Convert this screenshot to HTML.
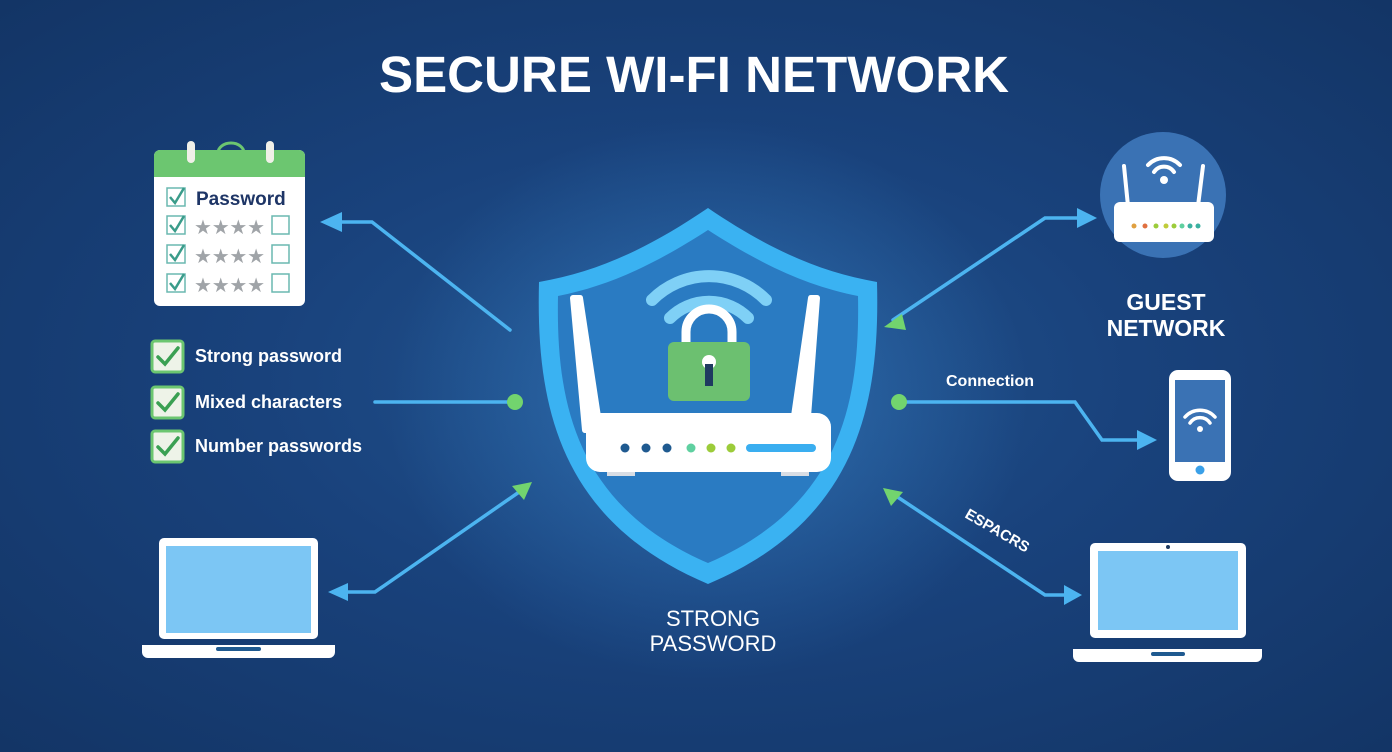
<!DOCTYPE html>
<html><head><meta charset="utf-8"><style>
html,body{margin:0;padding:0;width:1392px;height:752px;overflow:hidden;background:#163a70}
svg{display:block}
text{font-family:"Liberation Sans",sans-serif}
</style></head><body>
<svg width="1392" height="752" viewBox="0 0 1392 752" xmlns="http://www.w3.org/2000/svg">
<defs>
<radialGradient id="bg" cx="0.5" cy="0.5" r="0.7">
<stop offset="0" stop-color="#22548f"/><stop offset="0.45" stop-color="#19427c"/><stop offset="1" stop-color="#133566"/>
</radialGradient>
<radialGradient id="glow" cx="0.5" cy="0.5" r="0.5">
<stop offset="0" stop-color="#3d8fd8" stop-opacity="0.5"/><stop offset="1" stop-color="#3d8fd8" stop-opacity="0"/>
</radialGradient>
</defs>
<rect width="1392" height="752" fill="url(#bg)"/>
<ellipse cx="708" cy="400" rx="320" ry="280" fill="url(#glow)"/>

<text x="694" y="92" text-anchor="middle" font-size="51" font-weight="bold" fill="#fff" textLength="630" lengthAdjust="spacingAndGlyphs">SECURE WI-FI NETWORK</text>

<!-- connectors -->
<g stroke="#4cb4f0" stroke-width="3.5" fill="none" stroke-linecap="round">
<polyline points="510,330 372,222 340,222"/>
<line x1="375" y1="402" x2="512" y2="402"/>
<polyline points="522,490 375,592 345,592"/>
<polyline points="893,320 1045,218 1080,218"/>
<polyline points="902,402 1075,402 1102,440 1140,440"/>
<polyline points="890,492 1045,595 1068,595"/>
</g>
<g fill="#4cb4f0">
<polygon points="320,222 342,212 342,232"/>
<polygon points="328,592 348,583 348,601"/>
<polygon points="1097,218 1077,208 1077,228"/>
<polygon points="1157,440 1137,430 1137,450"/>
<polygon points="1082,595 1064,585 1064,605"/>
</g>
<g fill="#72d46e">
<circle cx="515" cy="402" r="8"/><circle cx="899" cy="402" r="8"/>
<polygon points="532,482 512,486 524,500"/>
<polygon points="884,327 902,314 906,330"/>
<polygon points="883,488 903,492 891,506"/>
</g>

<!-- shield -->
<path d="M708,208 C770,250 820,272 877,282 C880,400 860,520 708,584 C556,520 536,400 539,282 C596,272 646,250 708,208Z" fill="#3ab2f2"/>
<path d="M708,230 C764,266 808,286 858,296 C860,400 842,505 708,563 C574,505 556,400 558,296 C608,286 652,266 708,230Z" fill="#2a7bc2"/>
<path d="M652,300 A80,80 0 0 1 766,300" stroke="#7fd0f6" stroke-width="12" fill="none" stroke-linecap="round"/>
<path d="M670,318 A55,55 0 0 1 748,318" stroke="#7fd0f6" stroke-width="12" fill="none" stroke-linecap="round"/>
<path d="M686,345 V332 A23,23 0 0 1 732,332 V345" stroke="#fff" stroke-width="9" fill="none"/>
<rect x="668" y="342" width="82" height="59" rx="6" fill="#6cc070"/>
<circle cx="709" cy="362" r="7" fill="#fff"/>
<rect x="705" y="364" width="8" height="22" fill="#1f3a60"/>
<path d="M573,298 L585,430 L600,430 L580,298Z" fill="#fff" stroke="#fff" stroke-width="6" stroke-linejoin="round"/>
<path d="M811,298 L792,430 L807,430 L817,298Z" fill="#fff" stroke="#fff" stroke-width="6" stroke-linejoin="round"/>
<rect x="607" y="466" width="28" height="10" fill="#d8dde4"/>
<rect x="781" y="466" width="28" height="10" fill="#d8dde4"/>
<rect x="586" y="413" width="245" height="59" rx="14" fill="#fff"/>
<g><circle cx="625" cy="448" r="4.5" fill="#1f5a90"/><circle cx="646" cy="448" r="4.5" fill="#1f5a90"/><circle cx="667" cy="448" r="4.5" fill="#1f5a90"/><circle cx="691" cy="448" r="4.5" fill="#5fd0a0"/><circle cx="711" cy="448" r="4.5" fill="#9ccc3a"/><circle cx="731" cy="448" r="4.5" fill="#9ccc3a"/></g>
<rect x="746" y="444" width="70" height="8" rx="4" fill="#3aaef0"/>

<text x="713" y="626" text-anchor="middle" font-size="22" fill="#fff">STRONG</text>
<text x="713" y="651" text-anchor="middle" font-size="22" fill="#fff">PASSWORD</text>

<!-- calendar -->
<rect x="154" y="150" width="151" height="156" rx="6" fill="#fff"/>
<path d="M154,177 V156 A6,6 0 0 1 160,150 H299 A6,6 0 0 1 305,156 V177Z" fill="#6cc670"/>
<path d="M218,153 A13,10 0 0 1 244,153" stroke="#6cc670" stroke-width="3" fill="none"/>
<rect x="187" y="141" width="8" height="22" rx="4" fill="#f0f0e8"/>
<rect x="266" y="141" width="8" height="22" rx="4" fill="#f0f0e8"/>
<g stroke="#6ab8b0" stroke-width="1.5" fill="none">
<rect x="167" y="188" width="18" height="18"/><rect x="167" y="216" width="18" height="18"/><rect x="167" y="245" width="18" height="18"/><rect x="167" y="274" width="18" height="18"/>
<rect x="272" y="216" width="17" height="18"/><rect x="272" y="245" width="17" height="18"/><rect x="272" y="274" width="17" height="18"/>
</g>
<g stroke="#3a9c8a" stroke-width="2.5" fill="none">
<polyline points="170,197 175,203 184,188"/><polyline points="170,225 175,231 184,216"/><polyline points="170,254 175,260 184,245"/><polyline points="170,283 175,289 184,274"/>
</g>
<text x="196" y="205" font-size="19" font-weight="bold" fill="#1e3566">Password</text>
<g font-size="20" fill="#a0a4a8"><text x="194" y="234" textLength="71">★★★★</text><text x="194" y="263" textLength="71">★★★★</text><text x="194" y="292" textLength="71">★★★★</text></g>

<!-- checklist -->
<g fill="#eef3e8" stroke="#6cc670" stroke-width="3">
<rect x="152" y="341" width="31" height="31" rx="3"/><rect x="152" y="387" width="31" height="31" rx="3"/><rect x="152" y="431" width="31" height="31" rx="3"/>
</g>
<g stroke="#3aa052" stroke-width="3.5" fill="none" stroke-linecap="round">
<polyline points="158,357 165,364 178,348"/><polyline points="158,403 165,410 178,394"/><polyline points="158,447 165,454 178,438"/>
</g>
<g font-size="18" font-weight="bold" fill="#fff">
<text x="195" y="362">Strong password</text><text x="195" y="408">Mixed characters</text><text x="195" y="452">Number passwords</text>
</g>

<!-- left laptop -->
<rect x="159" y="538" width="159" height="101" rx="5" fill="#fff"/>
<rect x="166" y="546" width="145" height="87" fill="#7cc6f4"/>
<path d="M142,645 H335 V652 A6,6 0 0 1 329,658 H148 A6,6 0 0 1 142,652Z" fill="#fff"/>
<rect x="216" y="647" width="45" height="4" rx="2" fill="#1f5a90"/>
<!-- right laptop -->
<rect x="1090" y="543" width="156" height="95" rx="5" fill="#fff"/>
<rect x="1098" y="551" width="140" height="79" fill="#7cc6f4"/>
<circle cx="1168" cy="547" r="2" fill="#1f3a60"/>
<path d="M1073,649 H1262 V656 A6,6 0 0 1 1256,662 H1079 A6,6 0 0 1 1073,656Z" fill="#fff"/>
<rect x="1151" y="652" width="34" height="4" rx="2" fill="#1f5a90"/>

<!-- guest router -->
<circle cx="1163" cy="195" r="63" fill="#3a72b4"/>
<path d="M1124,166 L1128,206 M1203,166 L1198,206" stroke="#fff" stroke-width="4" stroke-linecap="round"/>
<rect x="1114" y="202" width="100" height="40" rx="6" fill="#fff"/>
<g><circle cx="1134" cy="226" r="2.5" fill="#e0a040"/><circle cx="1145" cy="226" r="2.5" fill="#e07040"/><circle cx="1156" cy="226" r="2.5" fill="#9ccc3a"/><circle cx="1166" cy="226" r="2.5" fill="#c0cc3a"/><circle cx="1174" cy="226" r="2.5" fill="#9ccc3a"/><circle cx="1182" cy="226" r="2.5" fill="#5fd0a0"/><circle cx="1190" cy="226" r="2.5" fill="#3ab0a0"/><circle cx="1198" cy="226" r="2.5" fill="#3ab0a0"/></g>
<path d="M1148,165 A22,22 0 0 1 1180,165" stroke="#fff" stroke-width="4" fill="none" stroke-linecap="round"/>
<path d="M1154,172 A12,12 0 0 1 1174,172" stroke="#fff" stroke-width="4" fill="none" stroke-linecap="round"/>
<circle cx="1164" cy="180" r="4" fill="#fff"/>
<text x="1166" y="310" text-anchor="middle" font-size="23" font-weight="bold" fill="#fff">GUEST</text>
<text x="1166" y="336" text-anchor="middle" font-size="23" font-weight="bold" fill="#fff">NETWORK</text>

<!-- phone -->
<rect x="1169" y="370" width="62" height="111" rx="9" fill="#fff"/>
<rect x="1175" y="380" width="50" height="82" fill="#3a72b4"/>
<circle cx="1200" cy="470" r="4.5" fill="#3aa0e8"/>
<path d="M1185,417 A20,20 0 0 1 1215,417" stroke="#fff" stroke-width="3.5" fill="none" stroke-linecap="round"/>
<path d="M1190,423 A12,12 0 0 1 1210,423" stroke="#fff" stroke-width="3.5" fill="none" stroke-linecap="round"/>
<circle cx="1200" cy="429" r="3" fill="#fff"/>
<text x="946" y="386" font-size="16" font-weight="bold" fill="#fff">Connection</text>
<text x="0" y="0" font-size="15" font-weight="bold" fill="#fff" transform="translate(964,517) rotate(30)">ESPACRS</text>
</svg>
</body></html>
